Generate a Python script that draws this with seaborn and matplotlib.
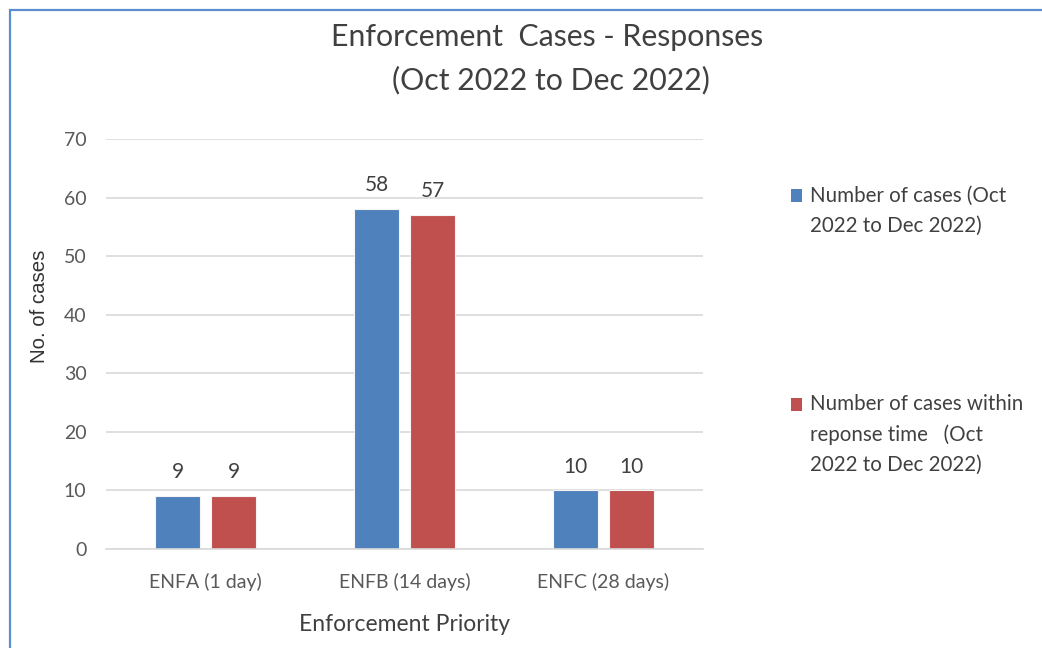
import matplotlib
matplotlib.use("Agg")
import matplotlib.pyplot as plt
import matplotlib.patches as mpatches
from matplotlib.legend_handler import HandlerPatch
import seaborn as sns
import pandas as pd

categories = ["ENFA (1 day)", "ENFB (14 days)", "ENFC (28 days)"]
series_names = ["Number of cases (Oct\n2022 to Dec 2022)",
                "Number of cases within\nreponse time   (Oct\n2022 to Dec 2022)"]
total_cases = [9, 58, 10]
within_time = [9, 57, 10]
yticks = [0, 10, 20, 30, 40, 50, 60, 70]
colors = ["#4F81BD", "#C0504D"]

df = pd.DataFrame({
    "cat": categories * 2,
    "series": [series_names[0]] * 3 + [series_names[1]] * 3,
    "value": total_cases + within_time,
})

sns.set_theme(style="white")
plt.rcParams["font.family"] = ["Lato", "DejaVu Sans"]

W, H = 1042, 648
fig = plt.figure(figsize=(W / 100, H / 100), dpi=100)
ax = fig.add_axes([106 / W, 1 - 549 / H, (703 - 106) / W, (549 - 139) / H])

sns.barplot(data=df, x="cat", y="value", hue="series", palette=colors,
            width=0.563, gap=0.196, ax=ax, legend=False,
            edgecolor="#f4f4f4", linewidth=0.8, saturation=1)

ax.set_ylim(0, 70)
ax.set_xlim(-0.5, 2.5)
ax.set_yticks(yticks)
ax.yaxis.grid(True, color="#d9d9d9", linewidth=1.2)
ax.set_axisbelow(True)
for s in ["top", "right", "left"]:
    ax.spines[s].set_visible(False)
ax.spines["bottom"].set_color("#d9d9d9")
ax.spines["bottom"].set_linewidth(1.2)
ax.tick_params(axis="y", length=0, labelsize=14, colors="#595959", pad=14)
ax.tick_params(axis="x", length=0, labelsize=14, colors="#595959", pad=17)

for c in ax.containers:
    ax.bar_label(c, padding=10, fontsize=15, color="#404040")

ax.set_xlabel("Enforcement Priority", fontsize=16.5, color="#404040", labelpad=17)
ax.set_ylabel("No. of cases", fontsize=14.7, color="#333333",
              family=["Liberation Sans", "DejaVu Sans"])
ax.yaxis.set_label_coords((49 - 106) / 597, (549 - 306) / 410)

fig.text(547 / W, 1 - 37 / H, "Enforcement  Cases - Responses", ha="center",
         va="center", fontsize=21.8, color="#404040")
fig.text(551 / W, 1 - 80 / H, "(Oct 2022 to Dec 2022)", ha="center",
         va="center", fontsize=21.8, color="#404040")

LINE_PT = 31 * 0.72  # legend line pitch in points


class TopHandler(HandlerPatch):
    def __init__(self, nlines):
        super().__init__()
        self.nlines = nlines

    def create_artists(self, legend, orig_handle, xdescent, ydescent,
                       width, height, fontsize, trans):
        shift = (self.nlines - 1) / 2 * LINE_PT
        p = mpatches.Rectangle((-xdescent, -ydescent + shift), width, height,
                               facecolor=orig_handle.get_facecolor(),
                               edgecolor="none", transform=trans)
        return [p]


legend_tops = [188, 397]
for name, col, top in zip(series_names, colors, legend_tops):
    h = mpatches.Patch(facecolor=col)
    n = name.count("\n") + 1
    leg = fig.legend([h], [name], loc="upper left",
                     bbox_to_anchor=(772 / W, 1 - (top - 21) / H), frameon=False,
                     fontsize=14.8, handlelength=0.55, handleheight=0.55,
                     handletextpad=0.4, labelcolor="#404040",
                     handler_map={h: TopHandler(n)})
    for t in leg.get_texts():
        t.set_linespacing(1.62)

border = mpatches.Rectangle((10 / W, -0.1), 1.2, 1 - 10 / H + 0.1,
                            transform=fig.transFigure, fill=False,
                            edgecolor="#5b8dd0", linewidth=1.6)
fig.add_artist(border)

fig.savefig("out.png", dpi=100, facecolor="white")
